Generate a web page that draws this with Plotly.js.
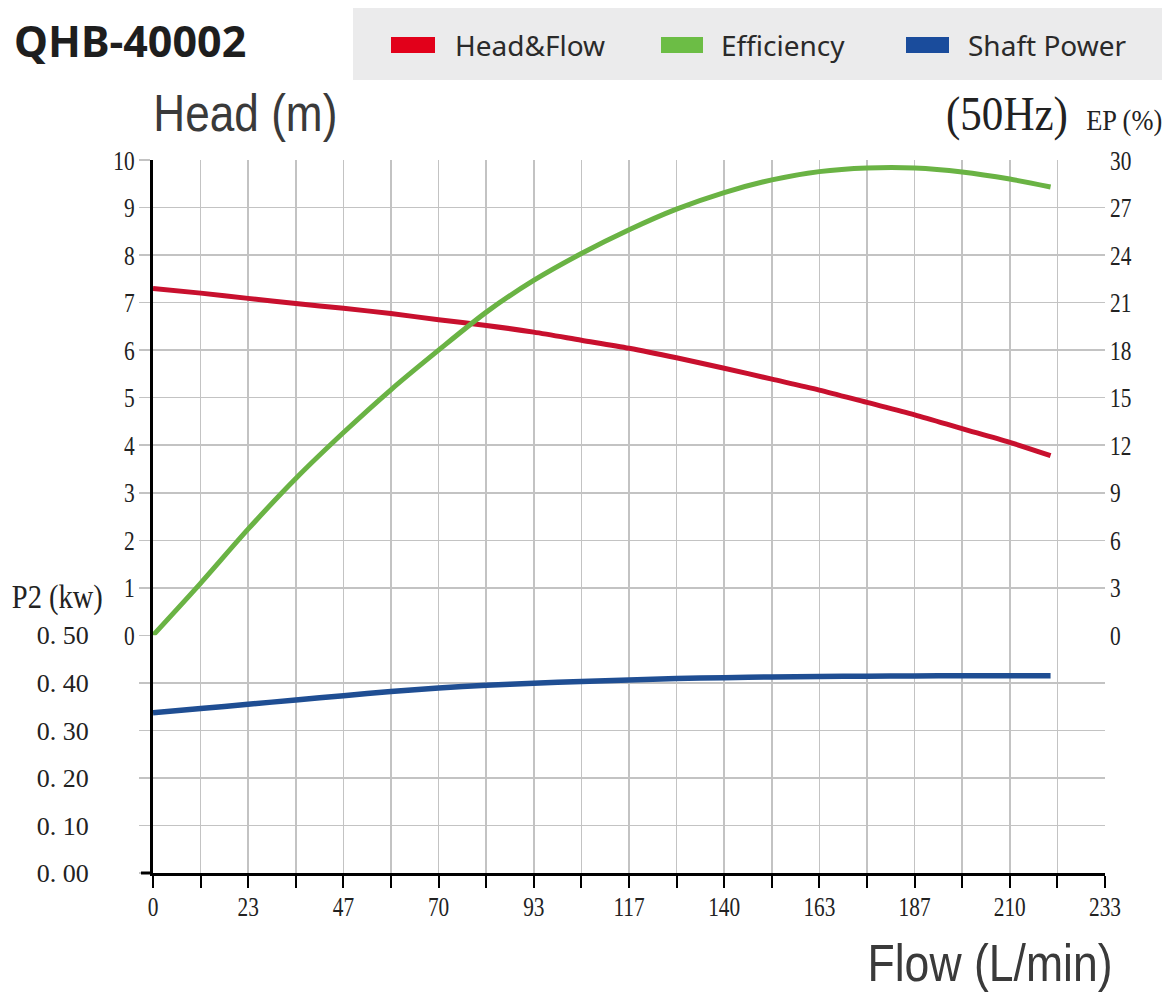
<!DOCTYPE html>
<html>
<head>
<meta charset="utf-8">
<script src="https://cdn.plot.ly/plotly-3.0.1.min.js"></script>
<style>
  html, body { margin: 0; padding: 0; background: #ffffff; }
  #chart { width: 1176px; height: 1000px; }
</style>
</head>
<body>
<div id="chart"></div>
<script>
// ---- data ----
const flow = [0, 11.7, 23.3, 35, 46.7, 58.3, 70, 81.7, 93.3, 105, 116.7, 128.3, 140, 151.7, 163.3, 175, 186.7, 198.3, 210, 220];
const head = [7.30, 7.20, 7.09, 6.98, 6.88, 6.77, 6.64, 6.52, 6.38, 6.21, 6.04, 5.84, 5.62, 5.39, 5.16, 4.90, 4.64, 4.35, 4.06, 3.78];
const efficiency = [0, 3.3, 6.7, 9.9, 12.8, 15.5, 18.0, 20.4, 22.4, 24.1, 25.6, 26.9, 27.95, 28.75, 29.27, 29.5, 29.5, 29.25, 28.8, 28.3];
const shaftPower = [0.337, 0.346, 0.355, 0.364, 0.373, 0.382, 0.389, 0.395, 0.399, 0.403, 0.406, 0.409, 0.411, 0.4125, 0.4135, 0.414, 0.4145, 0.415, 0.415, 0.415];

const flowTickVals = [0, 11.667, 23.333, 35, 46.667, 58.333, 70, 81.667, 93.333, 105, 116.667, 128.333, 140, 151.667, 163.333, 175, 186.667, 198.333, 210, 221.667, 233.333];
const flowTickText = ['0', '', '23', '', '47', '', '70', '', '93', '', '117', '', '140', '', '163', '', '187', '', '210', '', '233'];
const headTicks = [0, 1, 2, 3, 4, 5, 6, 7, 8, 9, 10];
const powerTicks = [0, 0.1, 0.2, 0.3, 0.4, 0.5];
const powerTickText = ['0. 00', '0. 10', '0. 20', '0. 30', '0. 40', '0. 50'];
const effTicks = [0, 3, 6, 9, 12, 15, 18, 21, 24, 27, 30];

const seriesNames = ['Head&Flow', 'Efficiency', 'Shaft Power'];
const lineColors = ['#c8102e', '#6ab344', '#1f4e93'];
const legendColors = ['#e2001a', '#6cbd45', '#1a4c9c'];

// ---- layout helpers (pixel -> paper) ----
const W = 1176, H = 1000;
const L = 153, R = 71, T = 160, B = 127;
const pw = W - L - R, ph = H - T - B;
const px = x => (x - L) / pw;
const py = y => (H - B - y) / ph;

const GRID = '#c3c3c3';
const serif = 'Liberation Serif, Times New Roman, serif';
const sans = 'Noto Sans, Open Sans, sans-serif';
const narrow = 'Liberation Sans, Arial, sans-serif';

const traces = [
  { x: flow, y: head, name: seriesNames[0], type: 'scatter', mode: 'lines',
    xaxis: 'x', yaxis: 'y', line: { color: lineColors[0], width: 5, shape: 'spline', smoothing: 0.8 } },
  { x: flow, y: efficiency, name: seriesNames[1], type: 'scatter', mode: 'lines',
    xaxis: 'x', yaxis: 'y3', line: { color: lineColors[1], width: 5, shape: 'spline', smoothing: 0.8 } },
  { x: flow, y: shaftPower, name: seriesNames[2], type: 'scatter', mode: 'lines',
    xaxis: 'x', yaxis: 'y2', line: { color: lineColors[2], width: 5.5, shape: 'spline', smoothing: 0.8 } }
];

const tickFont = { family: serif, size: 27, color: '#222222' };
const p2Font = { family: serif, size: 26, color: '#222222' };

const layout = {
  width: W, height: H,
  margin: { l: L, r: R, t: T, b: B, pad: 0 },
  paper_bgcolor: '#ffffff', plot_bgcolor: '#ffffff',
  showlegend: false,
  xaxis: {
    range: [0, 233.34], anchor: 'y2',
    tickmode: 'array', tickvals: flowTickVals, ticktext: flowTickText,
    ticks: 'outside', ticklen: 12, tickwidth: 2, tickcolor: '#000000',
    showline: true, linecolor: '#000000', linewidth: 3,
    showgrid: true, gridcolor: GRID, gridwidth: 1.5, zeroline: false,
    tickfont: tickFont, ticklabelstandoff: -4
  },
  yaxis: {
    domain: [1/3, 1], range: [0, 10.001], anchor: 'x',
    tickmode: 'array', tickvals: headTicks,
    ticks: 'outside', ticklen: 11, tickwidth: 1.5, tickcolor: GRID,
    showline: true, linecolor: '#000000', linewidth: 3,
    showgrid: true, gridcolor: GRID, gridwidth: 1.5, zeroline: false,
    tickfont: tickFont, ticklabelstandoff: -1
  },
  yaxis2: {
    domain: [0, 1/3], range: [0, 0.5], anchor: 'x',
    tickmode: 'array', tickvals: powerTicks, ticktext: powerTickText,
    ticks: 'outside', ticklen: 11, tickwidth: 1.5, tickcolor: GRID,
    showline: true, linecolor: '#000000', linewidth: 3,
    showgrid: true, gridcolor: GRID, gridwidth: 1.5, zeroline: false,
    tickfont: p2Font, ticklabelstandoff: 45
  },
  yaxis3: {
    overlaying: 'y', side: 'right', range: [0, 30.003], anchor: 'x',
    tickmode: 'array', tickvals: effTicks,
    ticks: '', showline: false, showgrid: false, zeroline: false,
    tickfont: tickFont, ticklabelstandoff: 4
  },
  yaxis4: {
    overlaying: 'y2', side: 'right', range: [0, 0.5], anchor: 'x',
    tickmode: 'array', tickvals: [0], ticktext: ['0'],
    ticks: '', showline: false, showgrid: false, zeroline: false,
    tickfont: tickFont, ticklabelstandoff: 4
  },
  shapes: [
    { type: 'rect', xref: 'paper', yref: 'paper', x0: px(353), x1: px(1162), y0: py(8), y1: py(80),
      fillcolor: '#ebebec', line: { width: 0 }, layer: 'below' },
    { type: 'rect', xref: 'paper', yref: 'paper', x0: px(391), x1: px(435), y0: py(37), y1: py(53),
      fillcolor: legendColors[0], line: { width: 0 } },
    { type: 'rect', xref: 'paper', yref: 'paper', x0: px(661), x1: px(703), y0: py(37), y1: py(53),
      fillcolor: legendColors[1], line: { width: 0 } },
    { type: 'rect', xref: 'paper', yref: 'paper', x0: px(906), x1: px(949), y0: py(37), y1: py(53),
      fillcolor: legendColors[2], line: { width: 0 } },
    { type: 'line', xref: 'paper', yref: 'paper', x0: px(141), x1: px(153), y0: 0, y1: 0,
      line: { color: '#000000', width: 3 } }
  ],
  annotations: [
    { text: '<b>QHB-40002</b>', xref: 'paper', yref: 'paper', x: px(12), y: py(40), xanchor: 'left', yanchor: 'middle',
      showarrow: false, font: { family: sans, size: 43, color: '#1e1e1e' } },
    { text: seriesNames[0], xref: 'paper', yref: 'paper', x: px(453), y: py(45), xanchor: 'left', yanchor: 'middle',
      showarrow: false, font: { family: sans, size: 28, color: '#2a2a2a' } },
    { text: seriesNames[1], xref: 'paper', yref: 'paper', x: px(719), y: py(45), xanchor: 'left', yanchor: 'middle',
      showarrow: false, font: { family: sans, size: 28, color: '#2a2a2a' } },
    { text: seriesNames[2], xref: 'paper', yref: 'paper', x: px(966), y: py(45), xanchor: 'left', yanchor: 'middle',
      showarrow: false, font: { family: sans, size: 28, color: '#2a2a2a' } },
    { text: 'Head (m)', xref: 'paper', yref: 'paper', x: px(245), y: py(113), xanchor: 'center', yanchor: 'middle',
      showarrow: false, font: { family: narrow, size: 52, color: '#3a3a3a' } },
    { text: 'Flow (L/min)', xref: 'paper', yref: 'paper', x: px(990), y: py(963), xanchor: 'center', yanchor: 'middle',
      showarrow: false, font: { family: narrow, size: 52, color: '#3a3a3a' } },
    { text: '(50Hz)', xref: 'paper', yref: 'paper', x: px(1007), y: py(114), xanchor: 'center', yanchor: 'middle',
      showarrow: false, font: { family: serif, size: 48, color: '#222222' } },
    { text: 'EP (%)', xref: 'paper', yref: 'paper', x: px(1124), y: py(120), xanchor: 'center', yanchor: 'middle',
      showarrow: false, font: { family: serif, size: 30, color: '#222222' } },
    { text: 'P2 (kw)', xref: 'paper', yref: 'paper', x: px(57), y: py(597), xanchor: 'center', yanchor: 'middle',
      showarrow: false, font: { family: serif, size: 34, color: '#222222' } }
  ]
};

// target widths (px) of texts that are drawn in condensed faces in the reference
const condensedWidths = { 'Head (m)': 184, 'Flow (L/min)': 245, '(50Hz)': 122, 'EP (%)': 76, 'P2 (kw)': 91 };
const tickSqueeze = 0.79;

Plotly.newPlot('chart', traces, layout, { displayModeBar: false, staticPlot: true }).then(gd => {
  gd.querySelectorAll('text.annotation-text').forEach(t => {
    const w = condensedWidths[t.textContent];
    if (w) {
      t.setAttribute('textLength', w);
      t.setAttribute('lengthAdjust', 'spacingAndGlyphs');
    }
  });
  ['xtick', 'ytick', 'y3tick', 'y4tick'].forEach(cls => {
    gd.querySelectorAll('g.' + cls + ' text').forEach(t => {
      if (!t.textContent) return;
      const len = t.getComputedTextLength();
      t.setAttribute('textLength', (len * tickSqueeze).toFixed(1));
      t.setAttribute('lengthAdjust', 'spacingAndGlyphs');
    });
  });
});
</script>
</body>
</html>
